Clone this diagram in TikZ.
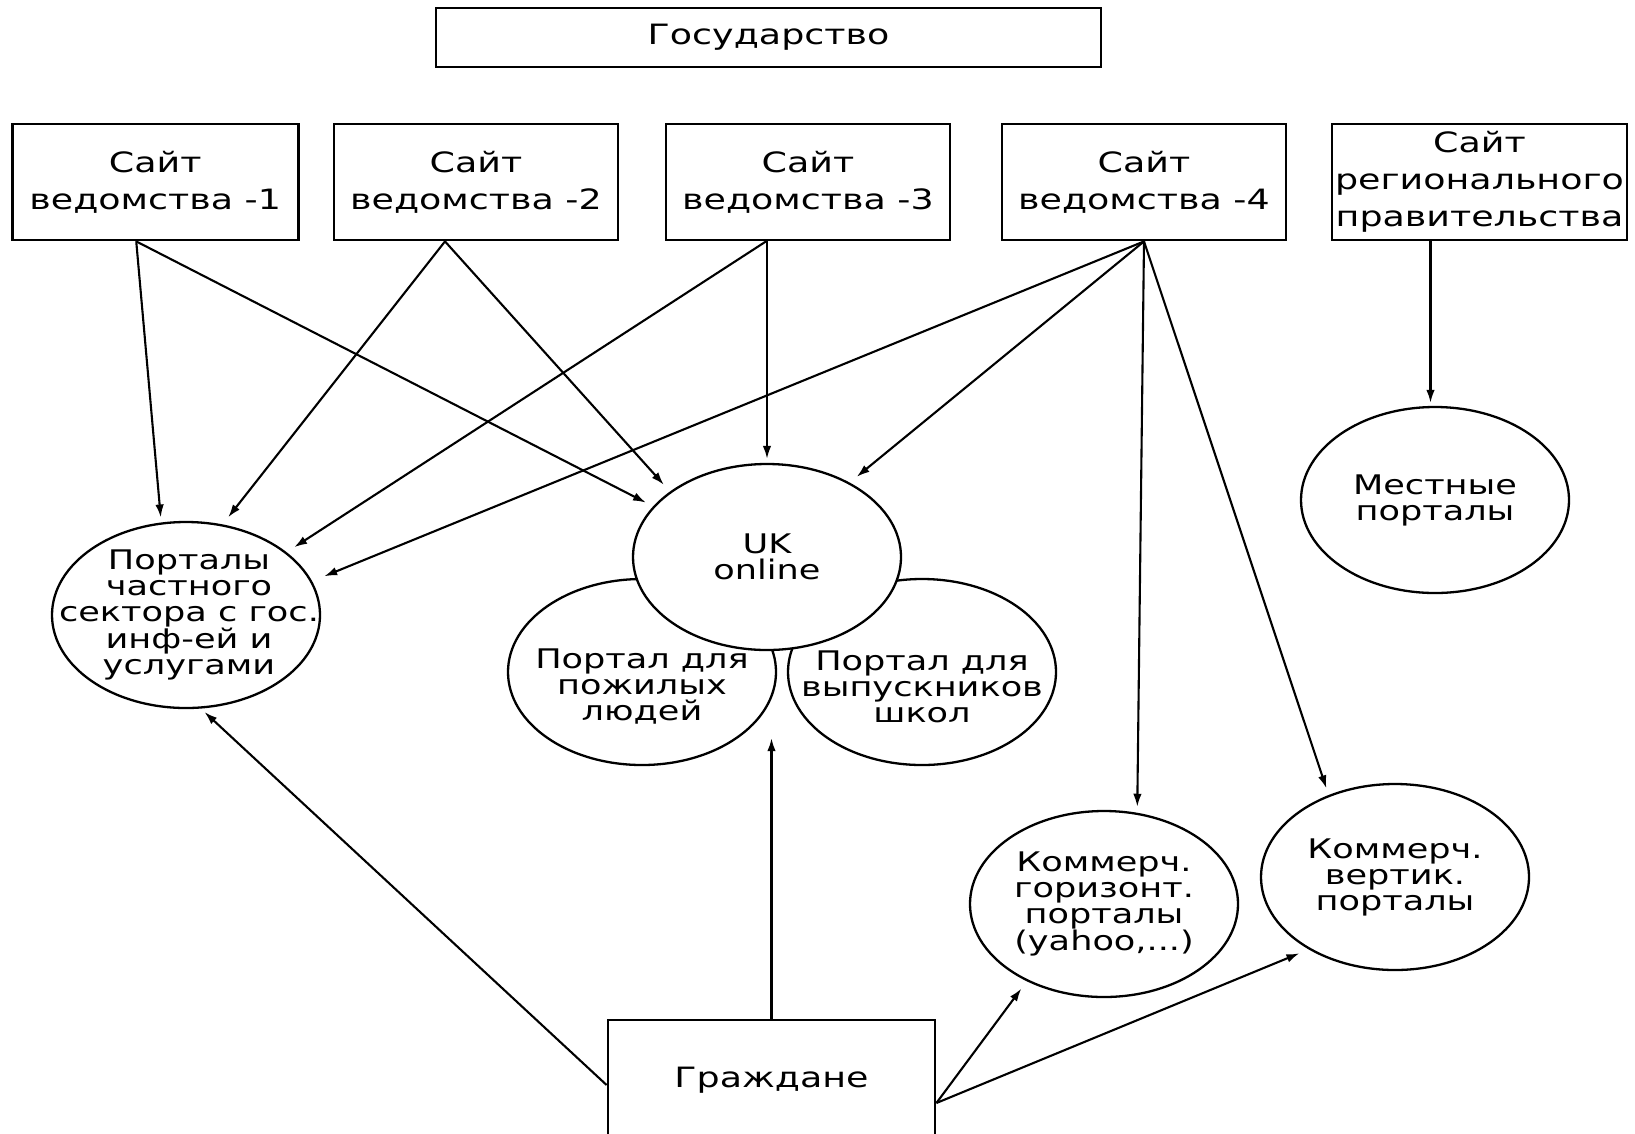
\documentclass[tikz,border=0pt]{standalone}
\usepackage{fontspec}
\setmainfont{DejaVu Sans}[FakeStretch=1.3]
\usetikzlibrary{shapes.geometric,arrows.meta}
\begin{document}
\begin{tikzpicture}[x=1pt,y=-1pt,
  box/.style={draw,line width=2.8pt,inner sep=0pt,align=center,font=\fontsize{28}{37}\selectfont},
  ell/.style={draw,ellipse,line width=2.3pt,fill=white,minimum width=268pt,minimum height=186pt,inner sep=0pt},
  etxt/.style={align=center,inner sep=0pt,font=\fontsize{27}{26}\selectfont},
  arr/.style={line width=2.1pt,-{Latex[length=13pt,width=8.5pt]}}]
\useasboundingbox (0,0) rectangle (1635,1133);
\clip (0,0) rectangle (1635,1133);
\fill[white] (0,0) rectangle (1635,1133);

% top level and the department sites
\node[box,minimum width=665pt,minimum height=59pt] (gos) at (768.5,37.5) {Государство};
\node[box,minimum width=286pt,minimum height=116pt] (s1) at (155.25,182) {Сайт\\ведомства -1};
\node[box,minimum width=284pt,minimum height=116pt] (s2) at (476,182) {Сайт\\ведомства -2};
\node[box,minimum width=284pt,minimum height=116pt] (s3) at (808,182) {Сайт\\ведомства -3};
\node[box,minimum width=284pt,minimum height=116pt] (s4) at (1144,182) {Сайт\\ведомства -4};
\node[box,minimum width=295pt,minimum height=116pt] (sr) at (1479.5,182) {Сайт\\регионального\\правительства};

% citizens (box runs off the lower edge)
\node[box,minimum width=327pt,minimum height=120pt] (gr) at (771.5,1080) {Граждане};

% portals
\node[ell] (elder) at (642,672) {};
\node[ell] (grad) at (922,672) {};
\node[ell] (UK) at (767,557) {};
\node[ell] (priv) at (186,615) {};
\node[ell] (local) at (1435,500) {};
\node[ell] (horiz) at (1104,904) {};
\node[ell] (vert) at (1395,877) {};

\node[etxt] (privt) at ([xshift=3pt]priv.center) {Порталы\\частного\\сектора с гос.\\инф-ей и\\услугами};
\node[etxt] (ukt) at (UK) {UK\\online};
\node[etxt] (eldert) at ([yshift=-15pt]elder.center) {Портал для\\пожилых\\людей};
\node[etxt] (gradt) at ([yshift=-15pt]grad.center) {Портал для\\выпускников\\школ};
\node[etxt] (localt) at (local) {Местные\\порталы};
\node[etxt] (horizt) at (horiz) {Коммерч.\\горизонт.\\порталы\\(yahoo,...)};
\node[etxt] (vertt) at (vert) {Коммерч.\\вертик.\\порталы};

% links from the sites
\draw[arr,shorten >=5pt] ([xshift=-19pt]s1.south) -- (priv.105);
\draw[arr,shorten >=8pt] ([xshift=-19pt]s1.south) -- (UK.156);
\draw[arr,shorten >=9pt] ([xshift=-31pt]s2.south) -- (priv.68);
\draw[arr,shorten >=9pt] ([xshift=-31pt]s2.south) -- (UK.146);
\draw[arr,shorten >=9pt] ([xshift=-42pt]s3.south) -- (priv.32);
\draw[arr,shorten >=4pt] (s3.south -| UK.north) -- (UK.north);
\draw[arr,shorten >=13pt] (s4.south) -- (priv.15);
\draw[arr,shorten >=9pt] (s4.south) -- (UK.42);
\draw[arr,shorten >=6pt] (s4.south) -- (horiz.70);
\draw[arr,shorten >=7pt] (s4.south) -- (vert.129);
\draw[arr,shorten >=3pt] ([xshift=-49pt]sr.south) -- ([xshift=-49pt]sr.south |- local.north);

% links from the citizens
\draw[arr,shorten >=5pt] ([yshift=-5pt]gr.west) -- (priv.-81);
\draw[arr,shorten >=87pt] (gr.north) -- (gr.north |- UK.south);
\draw[arr,shorten >=9pt] ([yshift=-23pt]gr.east) -- (horiz.225);
\draw[arr,shorten >=10pt] ([yshift=-23pt]gr.east) -- (vert.220);
\end{tikzpicture}
\end{document}
